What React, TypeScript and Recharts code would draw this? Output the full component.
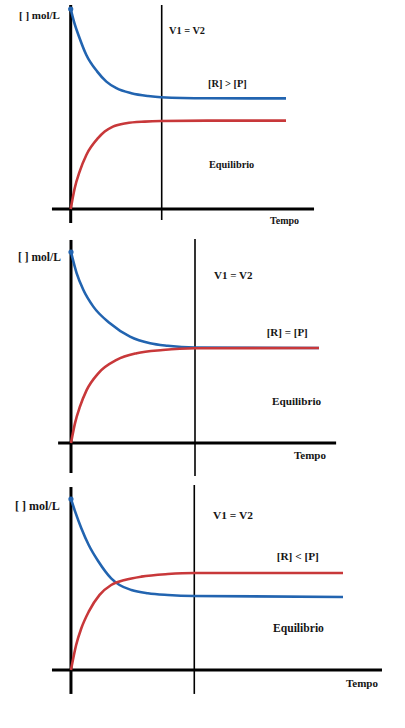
import React from "react";
import { LineChart, Line, XAxis, YAxis, ReferenceLine } from "recharts";

// ---------- DATA (time units: V1 = V2 at t = 5; concentration: [R]0 = 10) ----------
const axisLabel = "[ ] mol/L";
const rateLabel = "V1 = V2";
const eqLabel = "Equilibrio";
const timeLabel = "Tempo";
const relationLabels = ["[R] > [P]", "[R] = [P]", "[R] < [P]"];
const equalityTime = 5;

// Panel 1: [R] > [P]
const p1ReactT = [0, 0.18, 0.49, 0.86, 1.46, 1.96, 2.51, 3.33, 4.25, 4.96, 7.5, 11.83];
const p1ReactC = [10, 9.37, 8.54, 7.7, 6.87, 6.37, 6.04, 5.79, 5.65, 5.59, 5.54, 5.53];
const p1ProdT = [0, 0.22, 0.49, 0.86, 1.5, 1.87, 2.32, 3.05, 4.07, 4.96, 7.5, 11.83];
const p1ProdC = [0, 1.04, 1.87, 2.7, 3.54, 3.87, 4.12, 4.29, 4.37, 4.4, 4.42, 4.42];

// Panel 2: [R] = [P]
const p2ReactT = [0, 0.23, 0.5, 0.9, 1.57, 2.38, 3.19, 3.9, 5, 10];
const p2ReactC = [10, 8.88, 8.01, 7.14, 6.27, 5.57, 5.22, 5.09, 5.0, 4.97];
const p2ProdT = [0, 0.16, 0.36, 0.63, 1.1, 1.84, 2.65, 3.7, 5, 10];
const p2ProdC = [0, 1.03, 1.9, 2.77, 3.65, 4.35, 4.7, 4.87, 4.96, 4.97];

// Panel 3: [R] < [P]
const p3ReactT = [0, 0.17, 0.42, 0.72, 1.12, 1.63, 1.97, 2.45, 3.12, 3.93, 5, 11.03];
const p3ReactC = [10, 9.26, 8.29, 7.31, 6.33, 5.36, 4.97, 4.68, 4.49, 4.39, 4.33, 4.27];
const p3ProdT = [0, 0.21, 0.42, 0.72, 1.16, 1.63, 2.18, 2.85, 3.93, 5, 11.03];
const p3ProdC = [0, 1.46, 2.44, 3.41, 4.39, 4.97, 5.26, 5.46, 5.61, 5.67, 5.67];

const toSeries = (ts: number[], cs: number[]) => ts.map((t, i) => ({ t, c: cs[i] }));

// ---------- LAYOUT ----------
const BLUE = "#2264b0";
const RED = "#c8383a";
const FONT = "'Liberation Serif', 'Times New Roman', Times, serif";

type Panel = {
  top: number;
  height: number;
  margin: { top: number; right: number; bottom: number; left: number };
  xDomain: [number, number];
  yDomain: [number, number];
  vAxis: [number, number];
  hAxis: [number, number];
  vLine: [number, number];
  react: { t: number; c: number }[];
  prod: { t: number; c: number }[];
  labels: { text: string; left: number; cy: number; fs: number }[];
};

const panels: Panel[] = [
  {
    top: 0,
    height: 240,
    margin: { top: 3, right: 79.5, bottom: 11, left: 43.4 },
    xDomain: [-1.5, 14],
    yDomain: [-1, 10.3],
    vAxis: [-0.7, 10.2],
    hAxis: [-1.03, 13.37],
    vLine: [-0.55, 10.2],
    react: toSeries(p1ReactT, p1ReactC),
    prod: toSeries(p1ProdT, p1ProdC),
    labels: [
      { text: axisLabel, left: 19, cy: 15.5, fs: 11 },
      { text: rateLabel, left: 169, cy: 31, fs: 10.3 },
      { text: relationLabels[0], left: 208, cy: 84.5, fs: 10.4 },
      { text: eqLabel, left: 209, cy: 165, fs: 10.3 },
      { text: timeLabel, left: 270, cy: 221.5, fs: 10 },
    ],
  },
  {
    top: 230,
    height: 255,
    margin: { top: 2.9, right: 36.4, bottom: 3.8, left: 46.2 },
    xDomain: [-1, 12],
    yDomain: [-2, 11],
    vAxis: [-1.57, 10.63],
    hAxis: [-0.52, 10.69],
    vLine: [-1.73, 10.68],
    react: toSeries(p2ReactT, p2ReactC),
    prod: toSeries(p2ProdT, p2ProdC),
    labels: [
      { text: axisLabel, left: 18, cy: 258, fs: 11.5 },
      { text: rateLabel, left: 214, cy: 275.7, fs: 11 },
      { text: relationLabels[1], left: 266.7, cy: 332.7, fs: 11 },
      { text: eqLabel, left: 272, cy: 401.7, fs: 11.2 },
      { text: timeLabel, left: 294, cy: 455.7, fs: 11 },
    ],
  },
  {
    top: 478,
    height: 250,
    margin: { top: 3.9, right: 13.4, bottom: 23.8, left: 46.3 },
    xDomain: [-1, 13],
    yDomain: [-2, 11],
    vAxis: [-1.4, 10.7],
    hAxis: [-0.77, 12.61],
    vLine: [-1.4, 10.82],
    react: toSeries(p3ReactT, p3ReactC),
    prod: toSeries(p3ProdT, p3ProdC),
    labels: [
      { text: axisLabel, left: 15, cy: 506, fs: 12 },
      { text: rateLabel, left: 213, cy: 516, fs: 11.4 },
      { text: relationLabels[2], left: 276.7, cy: 557.3, fs: 11.3 },
      { text: eqLabel, left: 273, cy: 629.3, fs: 11.6 },
      { text: timeLabel, left: 346, cy: 683.3, fs: 11 },
    ],
  },
];

const StartDot = (props: any) => {
  const { cx, cy, index } = props;
  if (index !== 0) return <g key={`d${index}`} />;
  return <circle key={`d${index}`} cx={cx} cy={cy} r={2.6} fill={BLUE} />;
};

const PanelChart = ({ p }: { p: Panel }) => (
  <div style={{ position: "absolute", left: 0, top: p.top, width: 405, height: p.height }}>
    <LineChart width={405} height={p.height} margin={p.margin}>
      <XAxis type="number" dataKey="t" domain={p.xDomain} hide allowDataOverflow />
      <YAxis type="number" dataKey="c" domain={p.yDomain} hide allowDataOverflow />
      <ReferenceLine
        segment={[{ x: p.hAxis[0], y: 0 }, { x: p.hAxis[1], y: 0 }]}
        stroke="#000"
        strokeWidth={3}
        ifOverflow="visible"
      />
      <ReferenceLine
        segment={[{ x: 0, y: p.vAxis[0] }, { x: 0, y: p.vAxis[1] }]}
        stroke="#000"
        strokeWidth={3}
        ifOverflow="visible"
      />
      <ReferenceLine
        segment={[{ x: equalityTime, y: p.vLine[0] }, { x: equalityTime, y: p.vLine[1] }]}
        stroke="#000"
        strokeWidth={1.6}
        ifOverflow="visible"
      />
      <Line
        data={p.react}
        dataKey="c"
        type="monotone"
        stroke={BLUE}
        strokeWidth={2.6}
        dot={StartDot}
        activeDot={false}
        isAnimationActive={false}
      />
      <Line
        data={p.prod}
        dataKey="c"
        type="monotone"
        stroke={RED}
        strokeWidth={2.6}
        dot={false}
        activeDot={false}
        isAnimationActive={false}
      />
    </LineChart>
  </div>
);

export default function App() {
  return (
    <div
      style={{
        position: "absolute",
        left: 0,
        top: 0,
        width: 405,
        height: 728,
        background: "#fff",
        overflow: "hidden",
        fontFamily: FONT,
      }}
    >
      {panels.map((p, i) => (
        <PanelChart key={i} p={p} />
      ))}
      {panels.flatMap((p, i) =>
        p.labels.map((l, j) => (
          <div
            key={`${i}-${j}`}
            style={{
              position: "absolute",
              left: l.left,
              top: l.cy - l.fs * 0.52,
              fontSize: l.fs,
              lineHeight: 1,
              fontWeight: 700,
              fontFamily: FONT,
              color: "#151515",
              whiteSpace: "nowrap",
            }}
          >
            {l.text}
          </div>
        ))
      )}
    </div>
  );
}
